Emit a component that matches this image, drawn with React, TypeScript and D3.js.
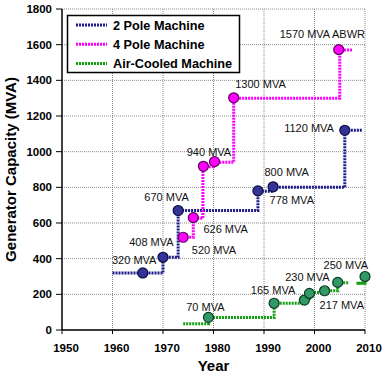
import React from "react";
import * as d3 from "d3";

// ---- data ----
const xTicks = [1950, 1960, 1970, 1980, 1990, 2000, 2010];
const yTicks = [0, 200, 400, 600, 800, 1000, 1200, 1400, 1600, 1800];

// step lines (year, MVA) – value holds until next year
const twoPoleStepYears = [1960, 1970, 1973, 1988.8, 1991.8, 2006, 2009.4];
const twoPoleStepValues = [320, 408, 670, 778, 800, 1120, 1120];
const fourPoleStepYears = [1974, 1976, 1977.9, 1980, 1984, 2005, 2007.6];
const fourPoleStepValues = [520, 626, 915, 940, 1300, 1570, 1570];
const airStepYears = [1974, 1979, 1992, 1998, 1999, 2002, 2004.6, 2006.8];
const airStepValues = [35, 70, 150, 168, 210, 220, 265, 265];
const airTailYears = [2008.3, 2010, 2010];
const airTailValues = [262, 262, 300];

// markers
const twoPoleYears = [1966, 1970, 1973, 1988.8, 1991.8, 2006];
const twoPoleValues = [320, 408, 670, 780, 803, 1120];
const fourPoleYears = [1974, 1976, 1978, 1980.2, 1984, 2004.8];
const fourPoleValues = [520, 630, 918, 944, 1302, 1572];
const airYears = [1979, 1992, 1998, 1999, 2002, 2004.6, 2010];
const airValues = [71, 150, 168, 205, 220, 267, 300];

// annotations: text, left-anchored at (year, MVA)
const labelTexts = [
  "320 MVA", "408 MVA", "670 MVA", "520 MVA", "626 MVA", "940 MVA",
  "1300 MVA", "1570 MVA ABWR", "1120 MVA", "800 MVA", "778 MVA",
  "70 MVA", "165 MVA", "230 MVA", "250 MVA", "217 MVA",
];
const labelYears = [
  1959.9, 1963.3, 1966.3, 1975.7, 1978, 1974.7,
  1984.3, 1993.1, 1994, 1990.1, 1991.1,
  1974.6, 1987.4, 1994.2, 2001.8, 2001,
];
const labelValues = [
  390, 493, 743, 450, 566, 998,
  1381, 1661, 1133, 883, 728,
  129, 224, 297, 364, 140,
];

const legendNames = ["2 Pole Machine", "4 Pole Machine", "Air-Cooled Machine"];

const W = 386, H = 376;
const M = { left: 62, right: 21, top: 9, bottom: 46 };

export default function App() {
  const x = d3.scaleLinear().domain([1950, 2010]).range([M.left, W - M.right]);
  const y = d3.scaleLinear().domain([0, 1800]).range([H - M.bottom, M.top]);

  const stepLine = d3
    .line<[number, number]>()
    .x((d) => x(d[0]))
    .y((d) => y(d[1]))
    .curve(d3.curveStepAfter);
  const plainLine = d3
    .line<[number, number]>()
    .x((d) => x(d[0]))
    .y((d) => y(d[1]));

  const zip = (a: number[], b: number[]) => a.map((v, i) => [v, b[i]] as [number, number]);

  const series = [
    {
      name: legendNames[0],
      line: "#1c1c8c",
      fill: "#333399",
      stroke: "#0a0a40",
      steps: zip(twoPoleStepYears, twoPoleStepValues),
      pts: zip(twoPoleYears, twoPoleValues),
    },
    {
      name: legendNames[1],
      line: "#ff00ff",
      fill: "#ff00ff",
      stroke: "#5a005a",
      steps: zip(fourPoleStepYears, fourPoleStepValues),
      pts: zip(fourPoleYears, fourPoleValues),
    },
    {
      name: legendNames[2],
      line: "#10a010",
      fill: "#339966",
      stroke: "#0b3a22",
      steps: zip(airStepYears, airStepValues),
      pts: zip(airYears, airValues),
    },
  ];

  const x0 = x(1950), x1 = x(2010), y0 = y(0), y1 = y(1800);
  const font = "'Liberation Sans', Arial, sans-serif";

  return (
    <svg
      width={W}
      height={H}
      style={{ position: "absolute", left: 0, top: 0, background: "#fff" }}
      fontFamily={font}
    >
      <rect x={0} y={0} width={W} height={H} fill="#fff" />
      {/* grid */}
      {yTicks.map((t) => (
        <line key={"gy" + t} x1={x0} x2={x1} y1={y(t)} y2={y(t)} stroke="#8a8a8a" strokeWidth={1} strokeDasharray="1 1" />
      ))}
      {xTicks.slice(1).map((t) => (
        <line key={"gx" + t} x1={x(t)} x2={x(t)} y1={y0} y2={y1} stroke="#8a8a8a" strokeWidth={1} strokeDasharray="1 1" />
      ))}
      {/* axes */}
      <line x1={x0} x2={x0} y1={y1} y2={y0} stroke="#000" strokeWidth={1.5} />
      <line x1={x0} x2={x1} y1={y0} y2={y0} stroke="#000" strokeWidth={1.5} />
      {yTicks.map((t) => (
        <g key={"ty" + t}>
          <line x1={x0 - 6} x2={x0} y1={y(t)} y2={y(t)} stroke="#000" strokeWidth={1} />
          <text x={x0 - 10} y={y(t)} dy="0.35em" textAnchor="end" fontSize={11.5} fontWeight="bold" fill="#000">
            {t}
          </text>
        </g>
      ))}
      {xTicks.map((t) => (
        <g key={"tx" + t}>
          <line x1={x(t)} x2={x(t)} y1={y0} y2={y0 + 4} stroke="#000" strokeWidth={1} />
          <text x={x(t) + 4} y={y0 + 22} textAnchor="middle" fontSize={11.5} fontWeight="bold" fill="#000">
            {t}
          </text>
        </g>
      ))}
      <text x={(x0 + x1) / 2} y={H - 5} textAnchor="middle" fontSize={15} fontWeight="bold" fill="#000">
        Year
      </text>
      <text
        transform={`translate(16, ${(y0 + y1) / 2}) rotate(-90)`}
        textAnchor="middle"
        fontSize={15}
        fontWeight="bold"
        fill="#000"
      >
        Generator Capacity (MVA)
      </text>

      {/* series lines */}
      {series.map((s) => (
        <path key={"l" + s.name} d={stepLine(s.steps) || ""} fill="none" stroke={s.line} strokeWidth={3} strokeDasharray="2 1" />
      ))}
      <path d={plainLine(zip(airTailYears, airTailValues)) || ""} fill="none" stroke={series[2].line} strokeWidth={3} />

      {/* markers */}
      {series.map((s) =>
        s.pts.map((p, i) => (
          <circle key={s.name + i} cx={x(p[0])} cy={y(p[1])} r={5} fill={s.fill} stroke={s.stroke} strokeWidth={1.2} />
        ))
      )}

      {/* annotations */}
      {labelTexts.map((t, i) => (
        <text key={"a" + i} x={x(labelYears[i])} y={y(labelValues[i])} dy="0.35em" fontSize={11} fill="#111">
          {t}
        </text>
      ))}

      {/* legend */}
      <g>
        <rect x={67.5} y={15.5} width={172} height={57} fill="#fff" stroke="#000" strokeWidth={1.5} />
        {series.map((s, i) => (
          <g key={"lg" + i} transform={`translate(0, ${25 + i * 19.2})`}>
            <line x1={76} x2={107} y1={0} y2={0} stroke={s.line} strokeWidth={3} strokeDasharray="2 1" />
            <text x={113} y={0} dy="0.36em" fontSize={12.7} fontWeight="bold" fill="#000">
              {s.name}
            </text>
          </g>
        ))}
      </g>
    </svg>
  );
}
